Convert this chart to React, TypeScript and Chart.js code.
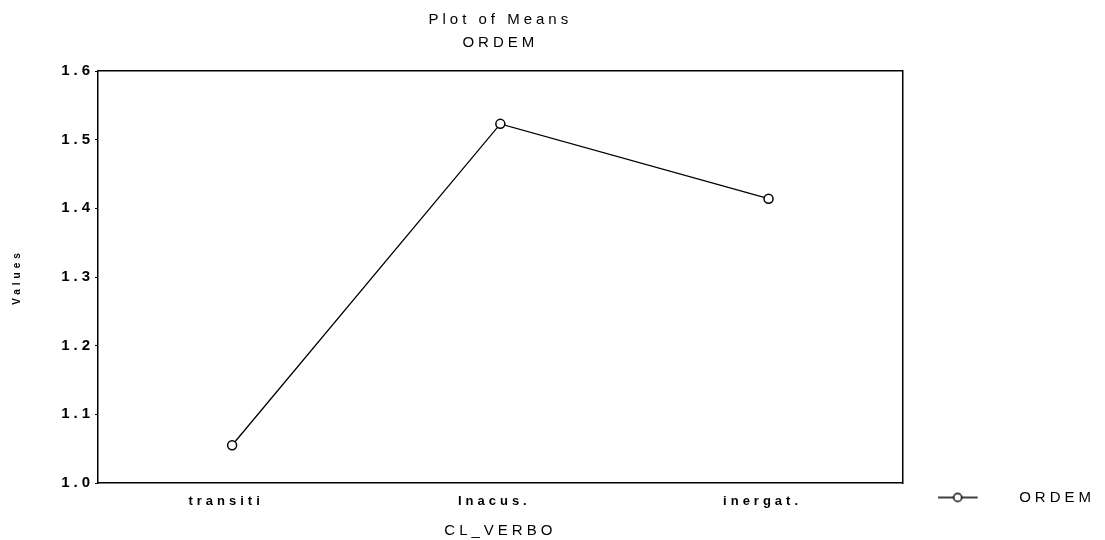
import React, { useEffect, useRef } from "react";
import { Chart, registerables } from "chart.js";

Chart.register(...registerables);

const categories = ["transiti", "Inacus.", "inergat."];
const ordemMeans = [1.055, 1.523, 1.414];
const yTicks = [1.0, 1.1, 1.2, 1.3, 1.4, 1.5, 1.6];
const seriesName = "ORDEM";
const chartTitle = "Plot of Means";
const xTitle = "CL_VERBO";
const yTitle = "Values";

const FONT = "'Liberation Sans', Arial, Helvetica, sans-serif";

export default function App() {
  const ref = useRef<HTMLCanvasElement>(null);

  useEffect(() => {
    const canvas = ref.current;
    if (!canvas) return;

    const glyph = document.createElement("canvas");
    glyph.width = 74;
    glyph.height = 14;
    const g = glyph.getContext("2d")!;
    g.strokeStyle = "#000";
    g.lineWidth = 1.5;
    g.beginPath();
    g.moveTo(0, 7);
    g.lineTo(40, 7);
    g.stroke();
    g.beginPath();
    g.arc(20, 7, 4, 0, Math.PI * 2);
    g.fillStyle = "#fff";
    g.fill();
    g.stroke();

    const chart = new Chart(canvas, {
      type: "line",
      data: {
        labels: categories,
        datasets: [
          {
            label: seriesName,
            data: ordemMeans,
            borderColor: "#000",
            borderWidth: 1.3,
            pointRadius: 4.5,
            pointBackgroundColor: "#fff",
            pointBorderColor: "#000",
            pointBorderWidth: 1.5,
            tension: 0,
            fill: false,
          },
        ],
      },
      options: {
        animation: false,
        responsive: false,
        layout: { padding: 0 },
        plugins: {
          title: {
            display: true,
            text: chartTitle,
            fullSize: false,
            color: "#000",
            font: { family: FONT, size: 15, weight: "normal" },
            padding: { top: 11, bottom: 5 },
          },
          subtitle: {
            display: true,
            text: seriesName,
            fullSize: false,
            color: "#000",
            font: { family: FONT, size: 15, weight: "normal" },
            padding: { top: 0, bottom: 19 },
          },
          legend: {
            position: "right",
            align: "end",
            maxWidth: 205,
            labels: {
              usePointStyle: true,
              pointStyle: glyph as any,
              pointStyleWidth: 74,
              padding: 35,
              color: "#000",
              font: { family: FONT, size: 15, weight: "normal" },
            },
          },
          tooltip: { enabled: false },
        },
        scales: {
          x: {
            type: "category",
            offset: true,
            grid: { display: false, drawTicks: false },
            border: { display: true, color: "#000", width: 1.5 },
            ticks: {
              color: "#000",
              font: { family: FONT, size: 13, weight: "bold" },
              padding: 11,
              labelOffset: -6,
              maxRotation: 0,
            },
            title: {
              display: true,
              text: xTitle,
              color: "#000",
              font: { family: FONT, size: 15, weight: "normal" },
              padding: { top: 0, bottom: 0 },
            },
            afterFit: (s: any) => {
              s.height = 57;
            },
          },
          x2: {
            type: "category",
            position: "top",
            grid: { display: false, drawTicks: false },
            border: { display: true, color: "#000", width: 1.5 },
            ticks: { display: false },
            afterFit: (s: any) => {
              s.height = 0;
            },
          },
          y: {
            type: "linear",
            min: yTicks[0],
            max: yTicks[yTicks.length - 1],
            afterBuildTicks: (s: any) => {
              s.ticks = yTicks.map((v) => ({ value: v }));
            },
            grid: { drawOnChartArea: false, tickLength: 3, color: "#000" },
            border: { display: true, color: "#000", width: 1.5 },
            ticks: {
              color: "#000",
              font: { family: FONT, size: 15, weight: "bold" },
              padding: 1,
              callback: (v: any) => Number(v).toFixed(1),
            },
            title: {
              display: true,
              text: yTitle,
              color: "#000",
              font: { family: FONT, size: 10, weight: "bold" },
              padding: { top: 11, bottom: 0 },
            },
            afterFit: (s: any) => {
              s.width = 98;
            },
          },
          y2: {
            type: "linear",
            position: "right",
            grid: { display: false, drawTicks: false },
            border: { display: true, color: "#000", width: 1.5 },
            ticks: { display: false },
            afterFit: (s: any) => {
              s.width = 0;
            },
          },
        },
      },
    } as any);

    (chart.ctx as any).letterSpacing = "4px";
    chart.update();

    return () => {
      chart.destroy();
    };
  }, []);

  return (
    <div style={{ position: "absolute", left: 0, top: 0, width: 1105, height: 540, background: "#fff" }}>
      <canvas ref={ref} width={1105} height={540} style={{ display: "block" }} />
    </div>
  );
}
